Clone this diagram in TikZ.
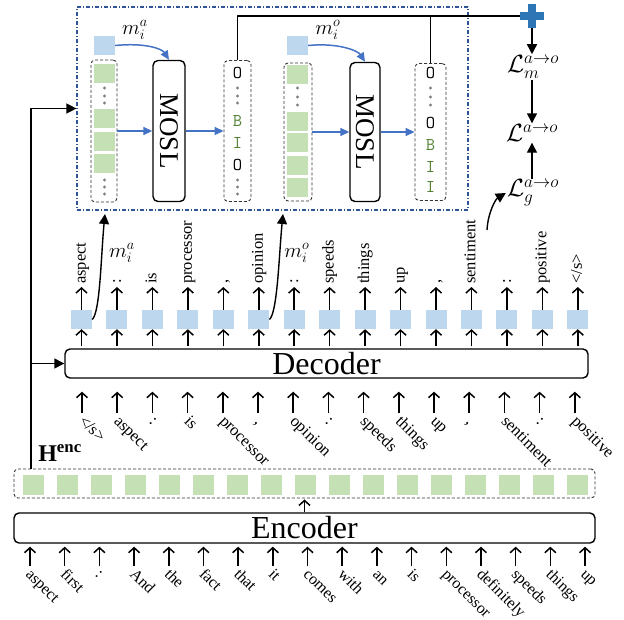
\documentclass[tikz,border=0pt]{standalone}
\usepackage{fontspec}
\setmainfont{Liberation Serif}
\usepackage{graphicx}
\usetikzlibrary{arrows.meta,positioning,calc}
\definecolor{cellblue}{HTML}{BDD7EE}
\definecolor{cellgreen}{HTML}{C5E0B4}
\definecolor{flowblue}{HTML}{4472C4}
\definecolor{frameblue}{HTML}{2F5597}
\definecolor{taggreen}{HTML}{548235}
\definecolor{plusblue}{HTML}{2E75B6}
\begin{document}
\begin{tikzpicture}[x=1pt,y=-1pt,line join=round,font=\fontsize{16.5}{20}\selectfont,
	wordarrow/.style={line width=1.5pt,-{Straight Barb[length=5pt,width=11pt]}},
	mainarrow/.style={line width=1.4pt,-{Triangle[length=10pt,width=10pt]}},
	flowarrow/.style={flowblue,line width=1.5pt,-{Triangle[length=9pt,width=8pt]}},
	coder/.style={draw,line width=1.4pt,rounded corners=5pt,inner sep=0pt,font=\fontsize{32}{32}\selectfont},
	cellb/.style={fill=cellblue,minimum width=21pt,minimum height=19pt,inner sep=0pt},
	cellg/.style={fill=cellgreen,minimum width=21pt,minimum height=19pt,inner sep=0pt},
	column/.style={draw=black!80,dash pattern=on 3pt off 2pt,line width=0.9pt,rounded corners=4pt,inner sep=0pt},
	mosl/.style={draw,line width=1.4pt,rounded corners=5pt,inner sep=0pt,font=\fontsize{27}{27}\selectfont},
	tag/.style={inner sep=0pt,font=\fontsize{18}{18}\selectfont\ttfamily},
	mlabel/.style={inner sep=0pt,font=\fontsize{21}{21}\selectfont},
	lossl/.style={inner sep=1pt,font=\fontsize{24}{24}\selectfont},
	word/.style={inner sep=0pt,anchor=base west}]
	\useasboundingbox (0,0) rectangle (624,619);
	\node[coder,minimum width=581pt,minimum height=30pt] (enc) at (304.5,528) {Encoder};
	\node[coder,minimum width=523pt,minimum height=29pt] (dec) at (326.5,363.5) {Decoder};
	\node[column,minimum width=581pt,minimum height=29pt] (hbox) at (304.5,483.5) {};
	\node[inner sep=0pt] (henc) at (60,453) {\fontsize{24}{24}\selectfont$\mathbf{H}^{\mathbf{enc}}$};
	\foreach \i in {0,...,16}{
		\node[cellg,minimum height=20pt] (h\i) at ({33.5+34*\i},485) {};
	}
	\draw[wordarrow,shorten >=1pt] (enc.north) -- (hbox.south);
	\foreach \w [count=\i from 0] in {aspect,first,:,And,the,fact,that,it,comes,with,an,is,processor,definitely,speeds,things,up}{
		\coordinate (e\i) at ({30+34.69*\i},566);
		\draw[wordarrow,shorten >=3pt] (e\i) -- (e\i |- enc.south);
		\node[word,rotate=-45,font=\fontsize{16}{20}\selectfont] (ew\i) at ({25+34.69*\i},575) {\w};
	}
	\foreach \w [count=\i from 0] in {</s>,aspect,:,is,processor,{,},opinion,:,speeds,things,up,{,},sentiment,:,positive}{
		\coordinate (d\i) at ({82+35.2*\i},413);
		\draw[wordarrow,shorten >=13pt] (d\i) -- (d\i |- dec.south);
		\node[word,rotate=-45] (dw\i) at ({78+35.2*\i},422) {\w};
	}
	\foreach \w [count=\i from 0] in {aspect,:,is,processor,{,},opinion,:,speeds,things,up,{,},sentiment,:,positive,</s>}{
		\node[cellb] (s\i) at ({81.5+35.45*\i},319.5) {};
		\coordinate (t\i) at ({81.5+35.45*\i},287);
		\draw[wordarrow,shorten <=2pt] (s\i |- dec.north) -- (s\i.south);
		\draw[wordarrow] (s\i.north) -- (t\i);
		\node[word,rotate=90] (ow\i) at ($(t\i)+(4,-3)$) {\w};
	}
	\node[draw=frameblue,line width=1.2pt,dash pattern=on 4pt off 2pt on 1pt off 2pt,minimum width=391pt,minimum height=203pt,inner sep=0pt] (grp) at (272.5,108.5) {};
	\coordinate (lft) at (31,364);
	\draw[mainarrow] (lft |- hbox.north) |- (grp.west);
	\draw[mainarrow] (lft |- dec.west) -- (dec.west);
	\node[cellb] (qa) at (104.5,45.5) {};
	\node[column,minimum width=26pt,minimum height=142pt] (col1) at (104,131) {};
	\foreach \y [count=\k] in {73.5,118.5,141.5,163.5}{
		\node[cellg] (ga\k) at (104.5,\y) {};
	}
	\foreach \y in {88,96,103,180,187,194}{
		\fill[gray] (104.5,\y) circle (1.7pt);
	}
	\node[mosl,minimum width=32pt,minimum height=141pt] (mosl1) at (169,131) {\rotatebox{-90}{MOSL}};
	\node[column,minimum width=27pt,minimum height=141pt] (tag1) at (237.5,131) {};
	\foreach \t/\y/\c [count=\k] in {O/73/black,B/121/taggreen,I/143/taggreen,O/165/black}{
		\node[tag,text=\c] (ta\k) at (237.5,\y) {\t};
	}
	\foreach \y in {88,96,103,180,187,194}{
		\fill[gray] (237.5,\y) circle (1.7pt);
	}
	\node[cellb] (qo) at (297.5,45.5) {};
	\node[column,minimum width=28pt,minimum height=138pt] (col2) at (298,132) {};
	\foreach \y [count=\k] in {74,121,142.5,165,187.5}{
		\node[cellg] (go\k) at (297.5,\y) {};
	}
	\foreach \y in {88,97,105}{
		\fill[gray] (297.5,\y) circle (1.7pt);
	}
	\node[mosl,minimum width=30pt,minimum height=139pt] (mosl2) at (365,132) {\rotatebox{-90}{MOSL}};
	\node[column,minimum width=31pt,minimum height=137pt] (tag2) at (430.5,132) {};
	\foreach \t/\y/\c [count=\k] in {O/73/black,O/123/black,B/145/taggreen,I/167/taggreen,I/187/taggreen}{
		\node[tag,text=\c] (tb\k) at (430.5,\y) {\t};
	}
	\foreach \y in {88,97,105}{
		\fill[gray] (430.5,\y) circle (1.7pt);
	}
	\draw[flowarrow] (col1.east) -- (col1.east -| mosl1.west);
	\draw[flowarrow] (mosl1.east) -- (mosl1.east -| tag1.west);
	\draw[flowarrow] (col2.east) -- (col2.east -| mosl2.west);
	\draw[flowarrow] (mosl2.east) -- (mosl2.east -| tag2.west);
	\draw[flowarrow] (qa.east) .. controls +(30,-3) and +(-7,-11) .. (mosl1.north);
	\draw[flowarrow] (qo.east) .. controls +(30,-3) and +(-7,-11) .. (mosl2.north);
	\node[mlabel] (lba) at (135,30) {$m_i^a$};
	\node[mlabel] (lbo) at (328,30) {$m_i^o$};
	\node[minimum size=23pt,inner sep=0pt] (plus) at (532,16) {};
	\draw[line width=1.3pt] (tag1.north) |- (plus.west);
	\draw[line width=1.3pt] (tag2.north) -- (tag2.north |- plus.west);
	\fill[plusblue] ($(plus.west)+(0,-4)$) rectangle ($(plus.east)+(0,4)$);
	\fill[plusblue] ($(plus.north)+(-4,0)$) rectangle ($(plus.south)+(4,0)$);
	\node[lossl] (lm) at (533,67) {$\mathcal{L}_m^{a\rightarrow o}$};
	\node[lossl] (l) at (532,133) {$\mathcal{L}^{a\rightarrow o}$};
	\node[lossl] (lg) at (533,193) {$\mathcal{L}_g^{a\rightarrow o}$};
	\draw[mainarrow] (plus.south) -- (plus.south |- lm.north);
	\draw[mainarrow] (plus.south |- lm.south) -- (plus.south |- l.north);
	\draw[mainarrow] (plus.south |- lg.north) -- (plus.south |- l.south);
	\coordinate (ma) at (105,214);
	\coordinate (mo) at (283,214);
	\coordinate (gs) at (487,230);
	\draw[mainarrow] (s0.east) .. controls +(8,-7) and +(-4,41) .. (ma);
	\draw[mainarrow] (s5.east) .. controls +(8,-7) and +(-4,41) .. (mo);
	\draw[mainarrow] (gs) .. controls +(1,-18) and +(-10,6) .. (lg.west);
	\node[mlabel] (lma) at (122,253) {$m_i^a$};
	\node[mlabel] (lmo) at (297,253) {$m_i^o$};
\end{tikzpicture}
\end{document}
